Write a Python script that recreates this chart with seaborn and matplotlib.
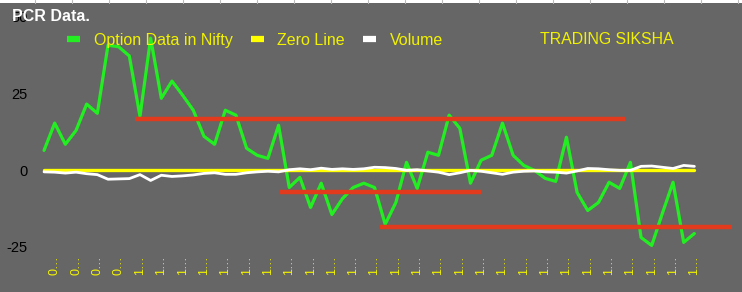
import numpy as np
import pandas as pd
import matplotlib
matplotlib.use("Agg")
import matplotlib.pyplot as plt
import matplotlib.patheffects as pe
from matplotlib.patches import Rectangle
from matplotlib.lines import Line2D
import seaborn as sns

# ---------------- data ----------------
option_data = [6.5, 15.4, 8.5, 13, 21.6, 18.6, 40.8, 40.3, 37.3, 17.6,
               43.1, 23.5, 29.1, 24.5, 19.6, 11.1, 8.5, 19.6, 18, 7.2,
               4.9, 3.9, 14.7, -5.6, -2.3, -12.1, -4.2, -14.4, -9.2, -5.6,
               -4.2, -5.6, -17.6, -10.5, 2.6, -5.9, 5.9, 4.9, 18, 13.7,
               -4.2, 3.3, 4.9, 15.4, 4.9, 1.6, 0, -2.6, -3.6, 10.8,
               -7.2, -13.1, -10.5, -3.9, -5.9, 2.6, -21.9, -24.5, -14, -3.9,
               -23.5, -20.6]
volume = [-0.5, -0.6, -0.9, -0.6, -1.1, -1.4, -2.9, -2.8, -2.7, -1.4,
          -3.3, -1.6, -2.0, -1.8, -1.5, -1.0, -0.8, -1.3, -1.3, -0.8,
          -0.5, -0.3, -0.5, 0.2, 0.5, 0.2, 0.7, 0.3, 0.5, 0.3,
          0.5, 1.0, 0.9, 0.6, 0.0, 0.2, -0.2, -0.6, -1.4, -0.8,
          0.0, -0.3, -0.8, -1.3, -0.6, -0.3, -0.2, -0.5, -0.6, -0.9,
          -0.2, 0.6, 0.5, 0.2, 0.0, 0.0, 1.3, 1.4, 1.0, 0.6,
          1.6, 1.3]
zero_line = [0.0] * len(option_data)
# category labels (shown truncated as in the source chart)
category_labels = ["0…"] * 8 + ["1…"] * 54
series_names = ["Option Data in Nifty", "Zero Line", "Volume"]
y_ticks = [-25, 0, 25, 50]
# drawn support/resistance levels: (level, start index, end index)
red_levels = [16.7, -7.1, -18.5]
red_starts = [8.55, 22.1, 31.5]
red_ends = [54.5, 41.0, 64.5]

# ---------------- style ----------------
bg = "#666666"
sns.set_theme(style="white")
plt.rcParams["font.family"] = ["Liberation Sans", "DejaVu Sans"]

fig = plt.figure(figsize=(7.42, 2.92), dpi=100, facecolor=bg)
W, H = 742, 292
ax = fig.add_axes([38.7 / W, 1 - 247 / H, (699.7 - 38.7) / W, (247 - 17) / H])
ax.set_facecolor(bg)

x = np.arange(len(option_data))
df = pd.DataFrame({"idx": x, "opt": option_data, "zero": zero_line, "vol": volume})

sns.lineplot(data=df, x="idx", y="opt", color="#22ee22", linewidth=2.3, ax=ax,
             label=series_names[0])
sns.lineplot(data=df, x="idx", y="zero", color="#ffff00", linewidth=2.4, ax=ax,
             label=series_names[1])
sns.lineplot(data=df, x="idx", y="vol", color="#ffffff", linewidth=2.0, ax=ax,
             label=series_names[2])

for lvl, s, e in zip(red_levels, red_starts, red_ends):
    ax.plot([s, e], [lvl, lvl], color="#e23a1c", linewidth=3.2, solid_capstyle="butt",
            clip_on=False, zorder=5,
            path_effects=[pe.SimplePatchShadow(offset=(0.6, -0.8), alpha=0.35),
                          pe.Normal()])

ax.set_xlim(-0.5, len(option_data) - 0.5)
ax.set_ylim(-25, 50)
ax.set_yticks(y_ticks)
ax.set_yticklabels([str(v) for v in y_ticks], fontsize=10.5, color="black")
tick_pos = x[1::2]
ax.set_xticks(tick_pos)
ax.set_xticklabels([category_labels[i] for i in tick_pos], rotation=90,
                   fontsize=9, color="#f5f500")
ax.tick_params(axis="y", length=0, pad=8)
ax.tick_params(axis="x", length=0, pad=6)
ax.set_xlabel("")
ax.set_ylabel("")
for sp in ax.spines.values():
    sp.set_visible(False)
ax.grid(False)

leg = ax.legend(loc="upper left", bbox_to_anchor=(67 / W, 1 - 33 / H),
                bbox_transform=fig.transFigure, ncol=3, frameon=False,
                fontsize=11.5, labelcolor="#f2f200", handlelength=0.8,
                handletextpad=0.86, columnspacing=1.15, borderpad=0, borderaxespad=0)
for h in leg.legend_handles:
    h.set_linewidth(4.5)
    h.set_solid_capstyle("butt")

fig.text(540 / W, 1 - 40 / H, "TRADING SIKSHA", color="#f2f200", fontsize=11.4,
         va="center", ha="left")
fig.text(12 / W, 1 - 21 / H, "PCR Data.", color="white", fontsize=11.5,
         fontweight="bold", va="baseline", ha="left")

# thin white spreadsheet strip along the top edge
fig.patches.append(Rectangle((0, 1 - 3 / H), 1, 3 / H, transform=fig.transFigure,
                             facecolor="white", edgecolor="none", zorder=0))
for px in np.arange(35, W, 37):
    fig.lines.append(Line2D([px / W, px / W], [1 - 3 / H, 1], transform=fig.transFigure,
                            color="#bbbbbb", linewidth=0.8))

fig.savefig("out.png", dpi=100, facecolor=bg)
